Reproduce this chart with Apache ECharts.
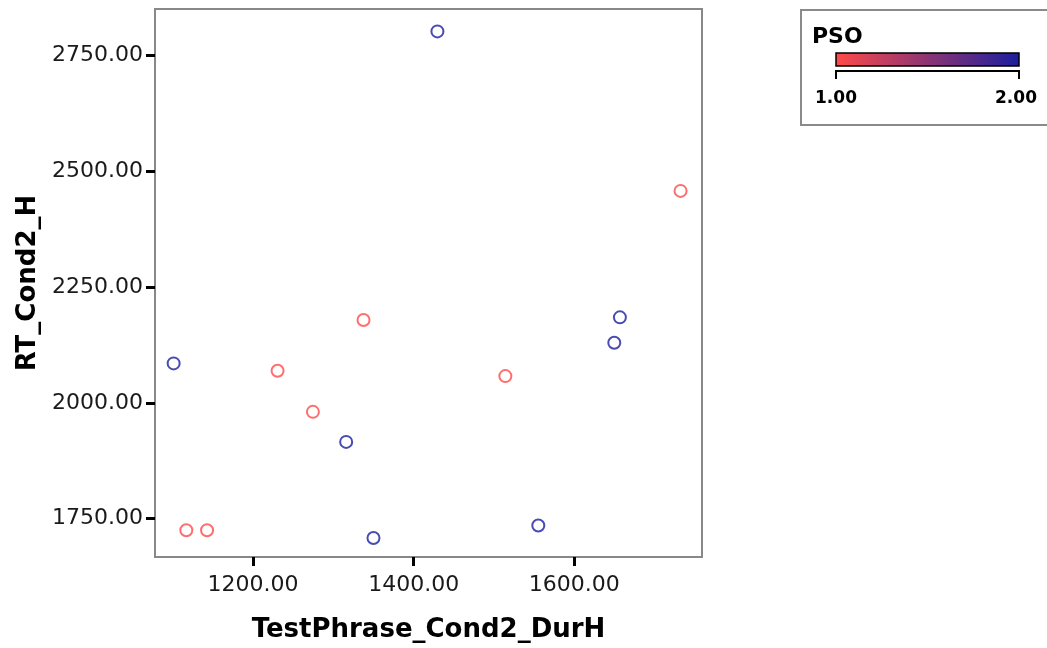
<!DOCTYPE html>
<html>
<head>
<meta charset="utf-8">
<script src="https://cdn.jsdelivr.net/npm/echarts@6/dist/echarts.min.js"></script>
<style>
html,body{margin:0;padding:0;background:#fff;}
#chart{width:1047px;height:648px;}
</style>
</head>
<body>
<div id="chart"></div>
<script>
// Data
var xValues = [1429.6, 1101.2, 1337.6, 1230.6, 1274.6, 1316.0, 1117.0, 1142.8, 1350.0, 1656.8, 1649.8, 1514.2, 1555.2, 1732.3];
var yValues = [2802.6, 2085.3, 2178.9, 2069.3, 1980.6, 1915.7, 1724.7, 1724.7, 1708.0, 2184.8, 2129.8, 2057.8, 1734.9, 2458.0];
var psoValues = [2, 2, 1, 1, 1, 2, 1, 1, 2, 2, 2, 1, 2, 1];
var xTicks = [1200, 1400, 1600];
var yTicks = [1750, 2000, 2250, 2500, 2750];
var psoRange = [1, 2];
var xName = 'TestPhrase_Cond2_DurH';
var yName = 'RT_Cond2_H';
var legendTitle = 'PSO';

var colorLow = '#ff4a4a', colorHigh = '#1a1f9e';

var points = xValues.map(function (x, i) { return [x, yValues[i], psoValues[i]]; });

var chart = echarts.init(document.getElementById('chart'), null, {renderer: 'canvas'});
var tickFont = {fontFamily: 'DejaVu Sans', fontSize: 22, color: '#1a1a1a'};

chart.setOption({
  animation: false,
  backgroundColor: '#fff',
  grid: {
    left: 155, top: 9, right: 345, bottom: 91,
    show: true, borderColor: '#888', borderWidth: 2, backgroundColor: '#fff'
  },
  xAxis: {
    type: 'value', min: 1078, max: 1759,
    name: xName, nameLocation: 'middle', nameGap: 60,
    nameTextStyle: {fontFamily: 'DejaVu Sans', fontWeight: 'bold', fontSize: 26, color: '#000'},
    axisLine: {show: true, lineStyle: {color: '#888', width: 2}},
    axisTick: {show: true, length: 9, lineStyle: {color: '#000', width: 3}, customValues: xTicks},
    axisLabel: Object.assign({margin: 17, customValues: xTicks,
      formatter: function (v) { return v.toFixed(2); }}, tickFont),
    splitLine: {show: false}
  },
  yAxis: {
    type: 'value', min: 1667, max: 2851,
    name: yName, nameLocation: 'middle', nameGap: 113, nameRotate: 90,
    nameTextStyle: {fontFamily: 'DejaVu Sans', fontWeight: 'bold', fontSize: 26, color: '#000'},
    axisLine: {show: true, lineStyle: {color: '#888', width: 2}},
    axisTick: {show: true, length: 9, lineStyle: {color: '#000', width: 3}, customValues: yTicks},
    axisLabel: Object.assign({margin: 12, customValues: yTicks,
      formatter: function (v) { return v.toFixed(2); }}, tickFont),
    splitLine: {show: false}
  },
  visualMap: {
    show: false, type: 'continuous', dimension: 2,
    min: psoRange[0], max: psoRange[1],
    inRange: {color: [colorLow, colorHigh]}
  },
  series: [{
    type: 'scatter',
    data: points,
    symbol: 'emptyCircle',
    symbolSize: 12,
    itemStyle: {borderWidth: 2}
  }],
  graphic: [
    {type: 'rect', shape: {x: 801, y: 10, width: 260, height: 115},
      style: {fill: '#fff', stroke: '#8a8a8a', lineWidth: 2}, z: 10},
    {type: 'text', x: 812, y: 37, z: 11,
      style: {text: legendTitle, fontFamily: 'DejaVu Sans', fontWeight: 'bold', fontSize: 22, fill: '#000', verticalAlign: 'middle', align: 'left'}},
    {type: 'rect', shape: {x: 836, y: 53, width: 183, height: 13}, z: 11,
      style: {
        fill: new echarts.graphic.LinearGradient(0, 0, 1, 0, [
          {offset: 0, color: colorLow}, {offset: 1, color: colorHigh}
        ]),
        stroke: '#000', lineWidth: 1.5
      }},
    {type: 'polyline', z: 11,
      shape: {points: [[836, 79], [836, 71], [1019, 71], [1019, 79]]},
      style: {stroke: '#000', lineWidth: 2, fill: null}},
    {type: 'text', x: 836, y: 99, z: 11,
      style: {text: psoRange[0].toFixed(2), fontFamily: 'DejaVu Sans', fontWeight: 'bold', fontSize: 17, fill: '#000', align: 'center', verticalAlign: 'middle'}},
    {type: 'text', x: 1016, y: 99, z: 11,
      style: {text: psoRange[1].toFixed(2), fontFamily: 'DejaVu Sans', fontWeight: 'bold', fontSize: 17, fill: '#000', align: 'center', verticalAlign: 'middle'}}
  ]
});
</script>
</body>
</html>
